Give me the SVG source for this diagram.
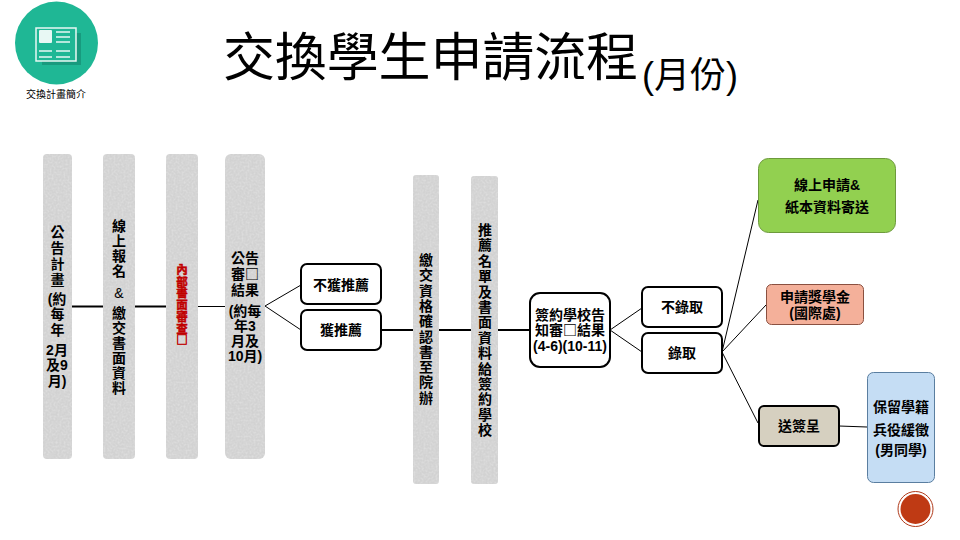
<svg xmlns="http://www.w3.org/2000/svg" width="960" height="540" viewBox="0 0 960 540">
<style>
text{font-family:"Liberation Sans","Noto Sans CJK TC",sans-serif;font-weight:700;font-size:14px;fill:#000;text-anchor:middle}
.col{fill:#d2d2d2;filter:url(#mottle)}
.box{fill:#fff;stroke:#000;stroke-width:2}
.c{fill:none;stroke:#000;stroke-width:1}
.t{stroke:#000;stroke-width:2;fill:none}
.title{font-weight:400;font-size:52px;text-anchor:start}
.sub{font-weight:400;font-size:36px;text-anchor:start}
.red{fill:#c00000;font-size:11.500px;stroke:#c00000;stroke-width:.5}
.b{font-family:"Noto Sans CJK TC",sans-serif}
</style>
<defs>
<filter id="mottle" x="0" y="0" width="1" height="1">
<feTurbulence type="fractalNoise" baseFrequency="0.5" numOctaves="2" seed="4" result="n"/>
<feColorMatrix in="n" type="matrix" values="0 0 0 0 1 0 0 0 0 1 0 0 0 0 1 0 0 0 0.5 -0.18" result="w"/>
<feComposite in="w" in2="SourceGraphic" operator="in" result="s"/>
<feMerge><feMergeNode in="SourceGraphic"/><feMergeNode in="s"/></feMerge>
</filter>
</defs>
<rect width="960" height="540" fill="#fff"/>
<g id="badge">
<circle cx="56.500" cy="43" r="41.500" fill="#1fb795"/>
<rect x="42" y="33" width="39" height="32" fill="#189a7e"/>
<rect x="36" y="28" width="40" height="33" fill="#1fb795" stroke="#e8f8f4" stroke-width="1.500"/>
<rect x="39" y="30" width="13" height="13" rx="1" fill="#e8f8f4"/>
<path d="M56 32H70M56 37H70M56 42H70M39 51H52M56 51H70M39 57H52M56 57H70" stroke="#e8f8f4" stroke-width="1.500" fill="none"/>
<text x="56" y="98" style="font-weight:400;font-size:10px">交換計畫簡介</text>
</g>
<g id="title">
<text class="title" x="223" y="76" textLength="415">交換學生申請流程</text>
<text class="sub" x="642" y="88">(月份)</text>
</g>
<g id="connectors">
<line class="t" x1="72" y1="306.500" x2="103" y2="306.500"/>
<line class="t" x1="135" y1="306.500" x2="166" y2="306.500"/>
<line class="c" x1="198" y1="306.500" x2="225" y2="306.500"/>
<path class="c" d="M301 285L265 306L301 330"/>
<line class="t" x1="381" y1="330" x2="530" y2="330"/>
<path class="c" d="M642 308L610 330L642 352"/>
<path class="c" d="M758 200L722 352L766 305M722 352L758 423"/>
<path class="c" d="M839 426L867 427"/>
</g>
<g id="n1"><rect class="col" x="43" y="154" width="29" height="305" rx="4"/>
<text x="57.500" y="237">公</text><text x="57.500" y="253">告</text><text x="57.500" y="269">計</text><text x="57.500" y="285">畫</text>
<text x="57" y="304">(約</text><text x="57.500" y="319">每</text><text x="57.500" y="335">年</text>
<text x="57" y="355">2月</text><text x="57" y="370">及9</text><text x="57" y="386">月)</text></g>
<g id="n2"><rect class="col" x="103" y="154" width="32" height="305" rx="4"/>
<text x="119" y="231">線</text><text x="119" y="246">上</text><text x="119" y="261">報</text><text x="119" y="276">名</text>
<text x="119" y="298" style="font-weight:400">&amp;</text>
<text x="119" y="318">繳</text><text x="119" y="333">交</text><text x="119" y="348">書</text><text x="119" y="363">面</text><text x="119" y="378">資</text><text x="119" y="393">料</text></g>
<g id="n3"><rect class="col" x="166" y="154" width="32" height="305" rx="4"/>
<text class="red" x="182" y="274">內</text><text class="red" x="182" y="285.700">部</text><text class="red" x="182" y="297.400">書</text><text class="red" x="182" y="309.100">面</text><text class="red" x="182" y="320.800">審</text><text class="red" x="182" y="332.500">查</text><text class="red b" x="182" y="344.200">□</text></g>
<g id="n4"><rect class="col" x="225" y="154" width="40" height="305" rx="6"/>
<text x="245" y="263">公告</text><text x="245" y="279"><tspan>審</tspan><tspan class="b">□</tspan></text><text x="245" y="295">結果</text>
<text x="245" y="316">(約每</text><text x="245" y="331">年3</text><text x="245" y="346">月及</text><text x="245" y="361">10月)</text></g>
<g id="n5"><rect class="box" x="301" y="264" width="80" height="40" rx="6"/><text x="341" y="290">不獲推薦</text></g>
<g id="n6"><rect class="box" x="301" y="310" width="80" height="40" rx="6"/><text x="341" y="335">獲推薦</text></g>
<g id="n7"><rect class="col" x="413" y="175" width="26" height="309" rx="3"/>
<text x="426" y="265">繳</text><text x="426" y="280.300">交</text><text x="426" y="295.600">資</text><text x="426" y="310.900">格</text><text x="426" y="326.200">確</text><text x="426" y="341.500">認</text><text x="426" y="356.800">書</text><text x="426" y="372.100">至</text><text x="426" y="387.400">院</text><text x="426" y="402.700">辦</text></g>
<g id="n8"><rect class="col" x="471" y="176" width="27" height="308" rx="3"/>
<text x="485" y="235">推</text><text x="485" y="250.400">薦</text><text x="485" y="265.800">名</text><text x="485" y="281.200">單</text><text x="485" y="296.600">及</text><text x="485" y="312">書</text><text x="485" y="327.400">面</text><text x="485" y="342.800">資</text><text x="485" y="358.200">料</text><text x="485" y="373.600">給</text><text x="485" y="389">簽</text><text x="485" y="404.400">約</text><text x="485" y="419.800">學</text><text x="485" y="435.200">校</text></g>
<g id="n9"><rect class="box" x="530" y="293" width="80" height="74" rx="10"/>
<text x="570" y="320">簽約學校告</text><text x="570" y="335"><tspan>知審</tspan><tspan class="b">□</tspan><tspan>結果</tspan></text><text x="570" y="351">(4-6)(10-11)</text></g>
<g id="n10"><rect class="box" x="642" y="287" width="80" height="40" rx="6"/><text x="682" y="312">不錄取</text></g>
<g id="n11"><rect class="box" x="642" y="333" width="80" height="40" rx="6"/><text x="682" y="358">錄取</text></g>
<g id="n12"><rect x="758.500" y="158.500" width="137" height="74" rx="10" fill="#92d050" stroke="#6d9a3c"/>
<text x="827" y="190">線上申請&amp;</text><text x="827" y="212">紙本資料寄送</text></g>
<g id="n13"><rect x="766.500" y="284.500" width="97" height="40" rx="5" fill="#f4b09a" stroke="#8a5040"/>
<text x="815" y="302">申請獎學金</text><text x="815" y="318">(國際處)</text></g>
<g id="n14"><rect x="759" y="406" width="80" height="40" rx="5" fill="#d6d0c0" stroke="#000" stroke-width="2"/><text x="799" y="431">送簽呈</text></g>
<g id="n15"><rect x="867.500" y="372.500" width="67" height="110" rx="6" fill="#c5ddf4" stroke="#5a7ea0"/>
<text x="901" y="412">保留學籍</text><text x="901" y="435">兵役緩徵</text><text x="901" y="455">(男同學)</text></g>
<g id="mark"><circle cx="915.500" cy="509" r="17.500" fill="#fff" stroke="#b03a1a" stroke-width="1"/><circle cx="915.500" cy="509" r="15" fill="#bf3a14"/></g>
</svg>
